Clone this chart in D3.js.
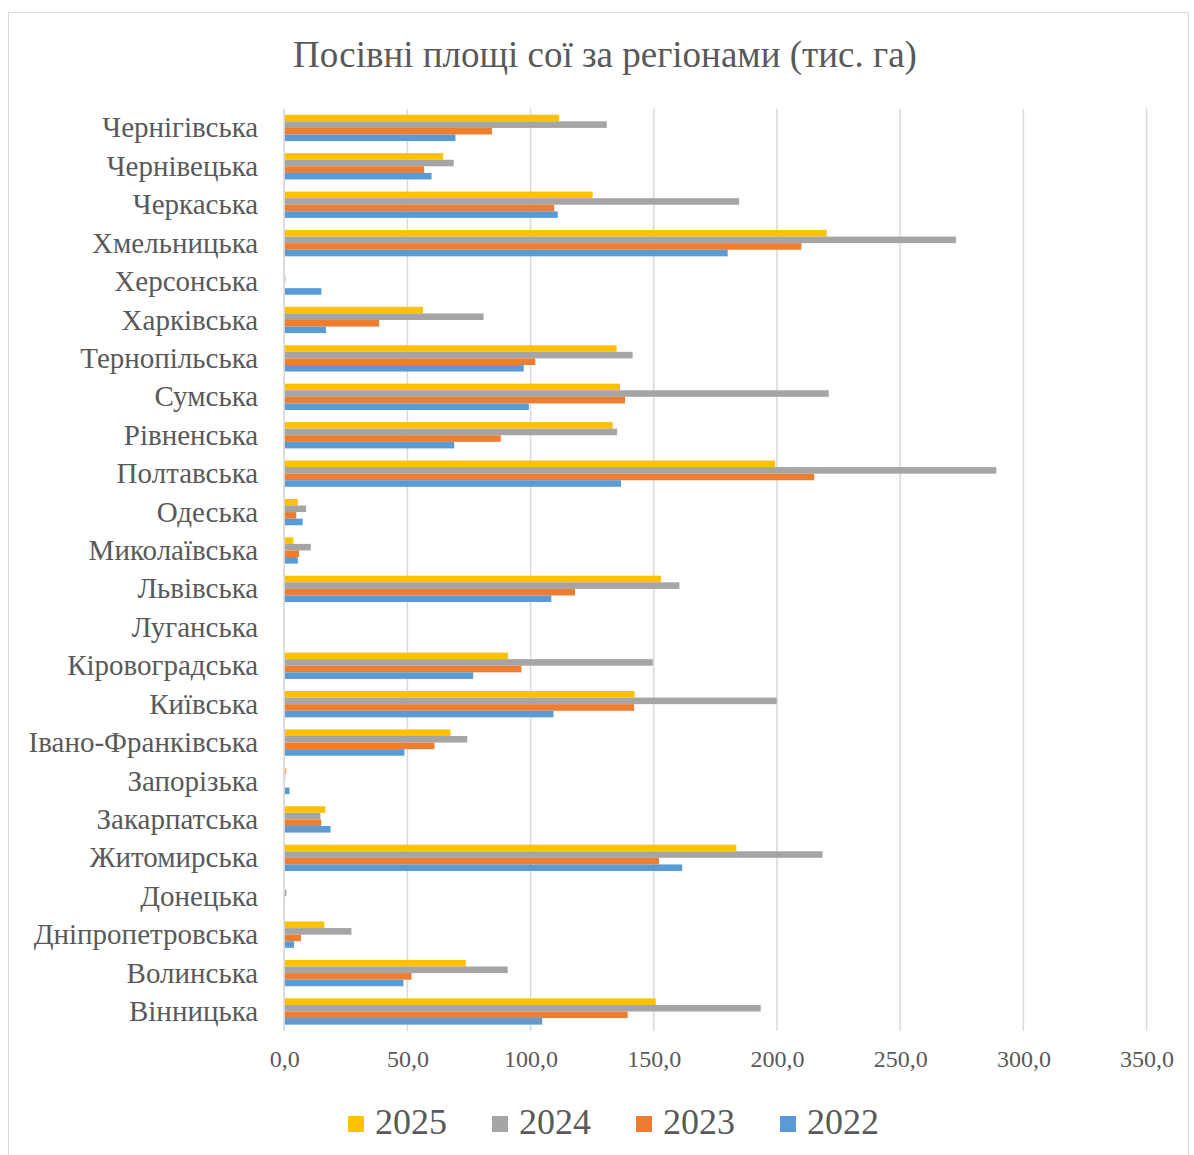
<!DOCTYPE html>
<html>
<head>
<meta charset="utf-8">
<script src="https://cdn.jsdelivr.net/npm/d3@7"></script>
<style>
  html, body { margin: 0; padding: 0; background: #fff; }
  svg text { font-family: "Liberation Serif", "Times New Roman", serif; fill: #595959; }
</style>
</head>
<body>
<svg id="chart" width="1194" height="1155"></svg>
<script>
// Regions, listed top to bottom as drawn
const regions = [
  "Чернігівська", "Чернівецька", "Черкаська", "Хмельницька", "Херсонська",
  "Харківська", "Тернопільська", "Сумська", "Рівненська", "Полтавська",
  "Одеська", "Миколаївська", "Львівська", "Луганська", "Кіровоградська",
  "Київська", "Івано-Франківська", "Запорізька", "Закарпатська", "Житомирська",
  "Донецька", "Дніпропетровська", "Волинська", "Вінницька"
];

const years = ["2025", "2024", "2023", "2022"];
const colors = ["#FFC000", "#A5A5A5", "#ED7D31", "#5B9BD5"];

// Sown area of soybeans, thousand hectares (same region order as above)
const v2025 = [111.6, 64.5, 125.2, 220.2, 0, 56.3, 134.9, 136.3, 133.3, 199.2,
               5.5, 3.7, 152.9, 0, 90.8, 142.2, 67.5, 0.9, 16.7, 183.5,
               0, 16.3, 73.7, 150.8];
const v2024 = [130.9, 68.8, 184.6, 272.6, 0.5, 80.9, 141.4, 221.0, 135.1, 289.0,
               8.9, 10.8, 160.4, 0, 149.6, 199.9, 74.3, 0.4, 14.7, 218.5,
               0.9, 27.3, 90.7, 193.4];
const v2023 = [84.3, 56.8, 109.6, 209.9, 0, 38.5, 101.9, 138.3, 87.9, 215.1,
               4.9, 6.0, 118.0, 0, 96.3, 142.0, 61.0, 0, 15.0, 152.1,
               0, 6.8, 51.7, 139.4];
const v2022 = [69.5, 59.8, 111.0, 180.0, 15.1, 17.0, 97.2, 99.3, 69.0, 136.7,
               7.5, 5.5, 108.4, 0, 76.7, 109.3, 48.8, 2.2, 18.8, 161.5,
               0, 4.0, 48.4, 104.7];
const seriesValues = [v2025, v2024, v2023, v2022];

const xTicks = [0, 50, 100, 150, 200, 250, 300, 350];

const svg = d3.select("#chart");

// chart frame
svg.append("rect")
  .attr("x", 8.5).attr("y", 12.5)
  .attr("width", 1180).attr("height", 1160)
  .attr("fill", "#fff").attr("stroke", "#d9d9d9").attr("stroke-width", 1);

// title
svg.append("text")
  .attr("x", 605).attr("y", 67)
  .attr("text-anchor", "middle")
  .style("font-size", "37px")
  .text("Посівні площі сої за регіонами (тис. га)");

const x = d3.scaleLinear().domain([0, 350]).range([284.2, 1146.6]);

const y = d3.scaleBand()
  .domain(regions)
  .range([108.7, 1030.7])
  .paddingInner(0.315)
  .paddingOuter(0.1575);

const ySub = d3.scaleBand()
  .domain(years)
  .range([0, y.bandwidth()])
  .padding(0);

// vertical gridlines
svg.append("g")
  .selectAll("line")
  .data(xTicks)
  .join("line")
  .attr("x1", d => x(d)).attr("x2", d => x(d))
  .attr("y1", 108.7).attr("y2", 1030.7)
  .attr("stroke", "#d9d9d9").attr("stroke-width", 1.5);

// x tick labels
const xAxis = svg.append("g")
  .attr("transform", "translate(0,1030.7)")
  .call(d3.axisBottom(x).tickValues(xTicks).tickSize(0).tickPadding(0)
        .tickFormat(d => d3.format(".1f")(d).replace(".", ",")));
xAxis.select(".domain").remove();
xAxis.selectAll("text")
  .attr("y", 36).attr("dy", 0)
  .style("font-size", "24px")
  .style("font-family", "'Liberation Serif', 'Times New Roman', serif")
  .attr("fill", "#595959");

// category labels
const yAxis = svg.append("g")
  .attr("transform", "translate(284.2,0)")
  .call(d3.axisLeft(y).tickSize(0).tickPadding(26));
yAxis.select(".domain").remove();
yAxis.selectAll("text")
  .style("font-size", "29px")
  .style("font-family", "'Liberation Serif', 'Times New Roman', serif")
  .attr("fill", "#595959")
  .attr("dy", "0.33em");

// bars
const rows = regions.map((r, i) => ({
  region: r,
  vals: years.map((yr, k) => ({ year: yr, value: seriesValues[k][i], color: colors[k] }))
}));

svg.append("g")
  .selectAll("g")
  .data(rows)
  .join("g")
  .attr("transform", d => `translate(0,${y(d.region)})`)
  .selectAll("rect")
  .data(d => d.vals.filter(v => v.value > 0))
  .join("rect")
  .attr("x", x(0))
  .attr("y", d => ySub(d.year))
  .attr("width", d => Math.max(0, x(d.value) - x(0)))
  .attr("height", ySub.bandwidth())
  .attr("fill", d => d.color);

// y axis line
svg.append("line")
  .attr("x1", x(0)).attr("x2", x(0))
  .attr("y1", 108.7).attr("y2", 1030.7)
  .attr("stroke", "#d9d9d9").attr("stroke-width", 1.5);

// legend
const legendX = [348, 492, 636, 780];
const legend = svg.append("g");
years.forEach((yr, k) => {
  legend.append("rect")
    .attr("x", legendX[k]).attr("y", 1116)
    .attr("width", 16).attr("height", 16)
    .attr("fill", colors[k]);
  legend.append("text")
    .attr("x", legendX[k] + 27).attr("y", 1134)
    .style("font-size", "36px")
    .text(yr);
});
</script>
</body>
</html>
